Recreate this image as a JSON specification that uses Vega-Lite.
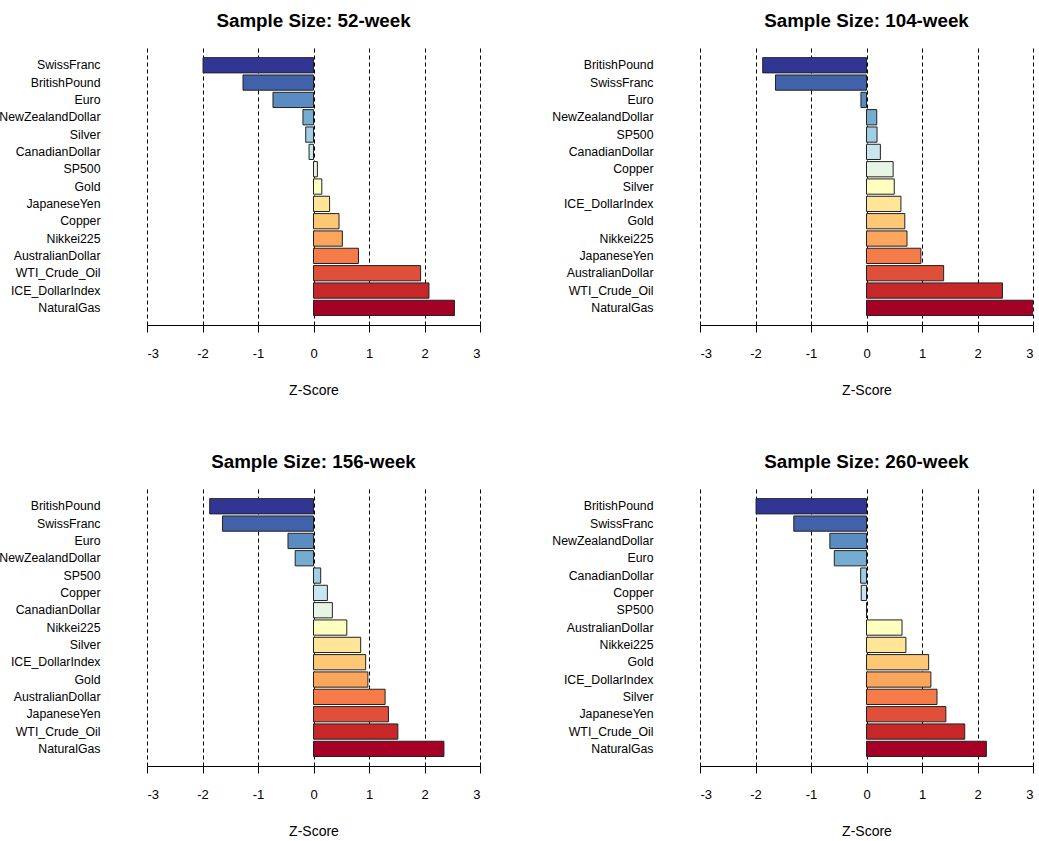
{
  "$schema": "https://vega.github.io/schema/vega-lite/v6.json",
  "background": "white",
  "padding": {"left": -2, "top": 12, "right": 0, "bottom": 0},
  "autosize": {"type": "pad"},
  "data": {"values": [
    {"panel": "52", "name": "SwissFranc", "z": -1.99},
    {"panel": "52", "name": "BritishPound", "z": -1.27},
    {"panel": "52", "name": "Euro", "z": -0.73},
    {"panel": "52", "name": "NewZealandDollar", "z": -0.19},
    {"panel": "52", "name": "Silver", "z": -0.14},
    {"panel": "52", "name": "CanadianDollar", "z": -0.08},
    {"panel": "52", "name": "SP500", "z": 0.07},
    {"panel": "52", "name": "Gold", "z": 0.15},
    {"panel": "52", "name": "JapaneseYen", "z": 0.29},
    {"panel": "52", "name": "Copper", "z": 0.46},
    {"panel": "52", "name": "Nikkei225", "z": 0.52},
    {"panel": "52", "name": "AustralianDollar", "z": 0.81},
    {"panel": "52", "name": "WTI_Crude_Oil", "z": 1.93},
    {"panel": "52", "name": "ICE_DollarIndex", "z": 2.08},
    {"panel": "52", "name": "NaturalGas", "z": 2.54},
    {"panel": "104", "name": "BritishPound", "z": -1.87},
    {"panel": "104", "name": "SwissFranc", "z": -1.64},
    {"panel": "104", "name": "Euro", "z": -0.10},
    {"panel": "104", "name": "NewZealandDollar", "z": 0.185},
    {"panel": "104", "name": "SP500", "z": 0.19},
    {"panel": "104", "name": "CanadianDollar", "z": 0.25},
    {"panel": "104", "name": "Copper", "z": 0.48},
    {"panel": "104", "name": "Silver", "z": 0.50},
    {"panel": "104", "name": "ICE_DollarIndex", "z": 0.62},
    {"panel": "104", "name": "Gold", "z": 0.69},
    {"panel": "104", "name": "Nikkei225", "z": 0.73},
    {"panel": "104", "name": "JapaneseYen", "z": 0.98},
    {"panel": "104", "name": "AustralianDollar", "z": 1.39},
    {"panel": "104", "name": "WTI_Crude_Oil", "z": 2.45},
    {"panel": "104", "name": "NaturalGas", "z": 3.2},
    {"panel": "156", "name": "BritishPound", "z": -1.87},
    {"panel": "156", "name": "SwissFranc", "z": -1.64},
    {"panel": "156", "name": "Euro", "z": -0.46},
    {"panel": "156", "name": "NewZealandDollar", "z": -0.33},
    {"panel": "156", "name": "SP500", "z": 0.13},
    {"panel": "156", "name": "Copper", "z": 0.25},
    {"panel": "156", "name": "CanadianDollar", "z": 0.34},
    {"panel": "156", "name": "Nikkei225", "z": 0.60},
    {"panel": "156", "name": "Silver", "z": 0.85},
    {"panel": "156", "name": "ICE_DollarIndex", "z": 0.94},
    {"panel": "156", "name": "Gold", "z": 0.98},
    {"panel": "156", "name": "AustralianDollar", "z": 1.29},
    {"panel": "156", "name": "JapaneseYen", "z": 1.35},
    {"panel": "156", "name": "WTI_Crude_Oil", "z": 1.52},
    {"panel": "156", "name": "NaturalGas", "z": 2.35},
    {"panel": "260", "name": "BritishPound", "z": -1.99},
    {"panel": "260", "name": "SwissFranc", "z": -1.31},
    {"panel": "260", "name": "NewZealandDollar", "z": -0.66},
    {"panel": "260", "name": "Euro", "z": -0.58},
    {"panel": "260", "name": "CanadianDollar", "z": -0.105},
    {"panel": "260", "name": "Copper", "z": -0.095},
    {"panel": "260", "name": "SP500", "z": 0.0},
    {"panel": "260", "name": "AustralianDollar", "z": 0.64},
    {"panel": "260", "name": "Nikkei225", "z": 0.71},
    {"panel": "260", "name": "Gold", "z": 1.12},
    {"panel": "260", "name": "ICE_DollarIndex", "z": 1.16},
    {"panel": "260", "name": "Silver", "z": 1.27},
    {"panel": "260", "name": "JapaneseYen", "z": 1.43},
    {"panel": "260", "name": "WTI_Crude_Oil", "z": 1.77},
    {"panel": "260", "name": "NaturalGas", "z": 2.16}
  ]},
  "transform": [
    {"window": [{"op": "row_number", "as": "rank"}], "sort": [{"field": "z", "order": "ascending"}], "groupby": ["panel"]}
  ],
  "columns": 2,
  "spacing": {"column": 70, "row": 56},
  "resolve": {"scale": {"x": "independent", "y": "independent", "color": "shared"}},
  "concat": [
    {
      "title": {"text": "Sample Size: 52-week"},
      "width": 333, "height": 279,
      "transform": [{"filter": "datum.panel == '52'"}],
      "mark": {"type": "bar", "stroke": "#222222", "strokeWidth": 1, "clip": true},
      "encoding": {
        "y": {"field": "name", "type": "nominal", "sort": {"field": "z", "order": "ascending"}, "scale": {"paddingInner": 0.12, "paddingOuter": 0.61, "align": 0.55}},
        "x": {"field": "z", "type": "quantitative", "stack": null, "title": "Z-Score", "scale": {"domain": [-3, 3], "nice": false, "zero": false}, "axis": {"values": [-3, -2, -1, 0, 1, 2, 3], "labelExpr": "'' + datum.value"}},
        "color": {"field": "rank", "type": "ordinal", "legend": null}
      }
    },
    {
      "title": {"text": "Sample Size: 104-week"},
      "width": 333, "height": 279,
      "transform": [{"filter": "datum.panel == '104'"}],
      "mark": {"type": "bar", "stroke": "#222222", "strokeWidth": 1, "clip": true},
      "encoding": {
        "y": {"field": "name", "type": "nominal", "sort": {"field": "z", "order": "ascending"}, "scale": {"paddingInner": 0.12, "paddingOuter": 0.61, "align": 0.55}},
        "x": {"field": "z", "type": "quantitative", "stack": null, "title": "Z-Score", "scale": {"domain": [-3, 3], "nice": false, "zero": false}, "axis": {"values": [-3, -2, -1, 0, 1, 2, 3], "labelExpr": "'' + datum.value"}},
        "color": {"field": "rank", "type": "ordinal", "legend": null}
      }
    },
    {
      "title": {"text": "Sample Size: 156-week"},
      "width": 333, "height": 279,
      "transform": [{"filter": "datum.panel == '156'"}],
      "mark": {"type": "bar", "stroke": "#222222", "strokeWidth": 1, "clip": true},
      "encoding": {
        "y": {"field": "name", "type": "nominal", "sort": {"field": "z", "order": "ascending"}, "scale": {"paddingInner": 0.12, "paddingOuter": 0.61, "align": 0.55}},
        "x": {"field": "z", "type": "quantitative", "stack": null, "title": "Z-Score", "scale": {"domain": [-3, 3], "nice": false, "zero": false}, "axis": {"values": [-3, -2, -1, 0, 1, 2, 3], "labelExpr": "'' + datum.value"}},
        "color": {"field": "rank", "type": "ordinal", "legend": null}
      }
    },
    {
      "title": {"text": "Sample Size: 260-week"},
      "width": 333, "height": 279,
      "transform": [{"filter": "datum.panel == '260'"}],
      "mark": {"type": "bar", "stroke": "#222222", "strokeWidth": 1, "clip": true},
      "encoding": {
        "y": {"field": "name", "type": "nominal", "sort": {"field": "z", "order": "ascending"}, "scale": {"paddingInner": 0.12, "paddingOuter": 0.61, "align": 0.55}},
        "x": {"field": "z", "type": "quantitative", "stack": null, "title": "Z-Score", "scale": {"domain": [-3, 3], "nice": false, "zero": false}, "axis": {"values": [-3, -2, -1, 0, 1, 2, 3], "labelExpr": "'' + datum.value"}},
        "color": {"field": "rank", "type": "ordinal", "legend": null}
      }
    }
  ],
  "config": {
    "view": {"stroke": null},
    "font": "Liberation Sans",
    "range": {"ordinal": ["#313695", "#4161ab", "#5a8bc1", "#74add1", "#9fcfe4", "#c8e6f0", "#e8f5e6", "#ffffbf", "#fee597", "#fdc776", "#fca55c", "#f57b49", "#e04f39", "#c8272a", "#a50026"]},
    "title": {"fontSize": 18.8, "fontWeight": "bold", "font": "Liberation Sans", "frame": "group", "anchor": "middle", "offset": 15, "color": "#000000"},
    "axisX": {
      "grid": true, "gridDash": [4, 3], "gridColor": "#000000", "gridWidth": 1, "gridOpacity": 1,
      "domainColor": "#000000", "domainWidth": 1, "tickColor": "#000000", "tickSize": 7, "tickWidth": 1,
      "labelFontSize": 13, "labelPadding": 15, "labelColor": "#000000", "labelFont": "Liberation Sans",
      "titleFontSize": 14, "titleFontWeight": "normal", "titlePadding": 23, "titleColor": "#000000", "titleFont": "Liberation Sans",
      "zindex": 1
    },
    "axisY": {
      "title": null, "domain": false, "ticks": false, "grid": false,
      "labelPadding": 47, "labelFontSize": 12.3, "labelFont": "Liberation Sans", "labelColor": "#000000"
    }
  }
}
